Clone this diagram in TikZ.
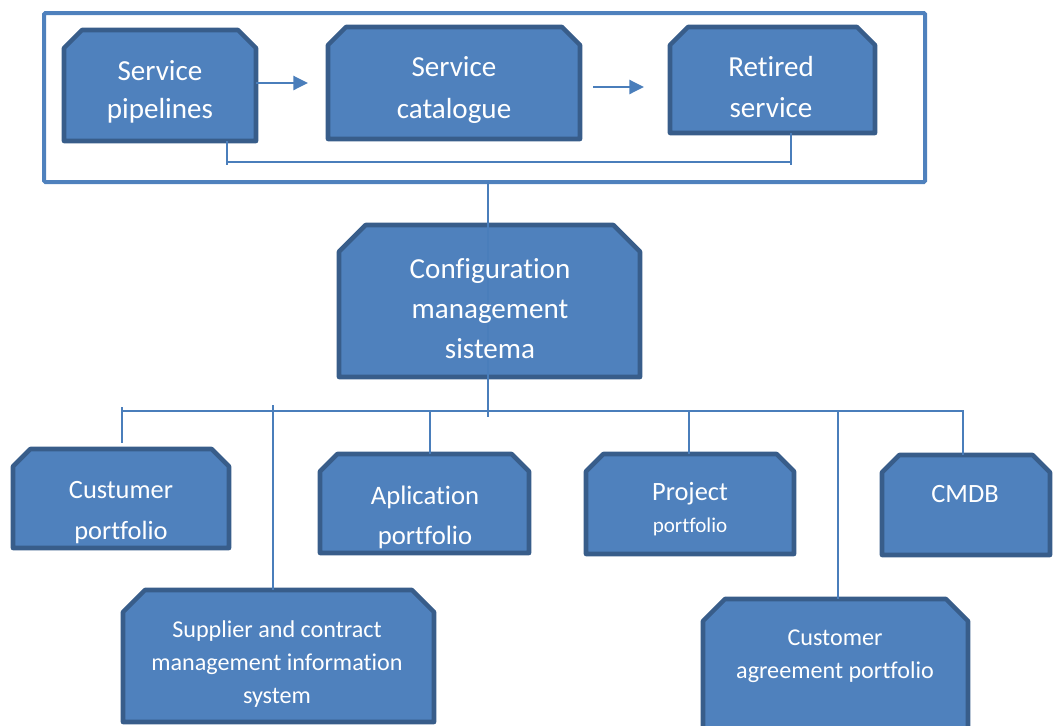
\documentclass[tikz,border=0pt]{standalone}
\usepackage{fontspec}
\setmainfont{Carlito}[Ligatures={NoCommon,NoContextual}]
\usetikzlibrary{arrows.meta,fit}

\definecolor{boxfill}{HTML}{4F81BD}
\definecolor{boxedge}{HTML}{385D8A}
\definecolor{wire}{HTML}{4A7EBB}

% centred lines whose base anchor is the first line's baseline
\newcommand\stacklines[1]{\begin{tabular}[t]{@{}c@{}}#1\end{tabular}}

% block with the two upper corners cut off: #1 node name, #2 cut size
\newcommand\chamferbox[2]{%
  \path[blockshape]
    ([yshift=-#2]#1.north west) -- ([xshift=#2]#1.north west)
    -- ([xshift=-#2]#1.north east) -- ([yshift=-#2]#1.north east)
    -- (#1.south east) -- (#1.south west) -- cycle;}

\tikzset{
  area/.style={inner sep=0pt, outer sep=0pt},
  blockshape/.style={fill=boxfill, draw=boxedge, line width=3.4pt, line join=round},
  frameline/.style={draw=boxfill, line width=3pt, rounded corners=1pt},
  wireline/.style={draw=wire, line width=1.2pt},
  arrowline/.style={draw=wire, line width=1.8pt,
    -{Triangle[length=11pt,width=10.5pt]}},
  lbl/.style={anchor=base, text=white, inner sep=0pt},
}

\begin{document}
\begin{tikzpicture}[x=0.75pt, y=-0.75pt]
\useasboundingbox (0,0) rectangle (1053,725);
\clip (0,0) rectangle (1053,725);

% outer frame of the service lifecycle
\node[area, frameline, fit={(44,13) (925,182)}] (frame) {};

% block areas
\node[area, fit={(64,30) (256,141)}]   (sp)   {};
\node[area, fit={(328,27) (580,139)}]  (sc)   {};
\node[area, fit={(670,27) (875,133)}]  (rs)   {};
\node[area, fit={(339,225) (640,377)}] (cms)  {};
\node[area, fit={(13,449) (229,548)}]  (cp)   {};
\node[area, fit={(320,454) (529,553)}] (ap)   {};
\node[area, fit={(586,454) (794,554)}] (pp)   {};
\node[area, fit={(882,455) (1050,555)}] (cmdb) {};
\node[area, fit={(123,590) (434,722)}] (sup)  {};
\node[area, fit={(703,599) (968,745)}] (cap)  {};

\chamferbox{sp}{13.5pt}
\chamferbox{sc}{13.5pt}
\chamferbox{rs}{13.5pt}
\chamferbox{cms}{20pt}
\chamferbox{cp}{13pt}
\chamferbox{ap}{13pt}
\chamferbox{pp}{13pt}
\chamferbox{cmdb}{13pt}
\chamferbox{sup}{16.5pt}
\chamferbox{cap}{16.5pt}

% lifecycle arrows
\draw[arrowline, shorten >=15pt] (sp.east |- sc.west) -- (sc.west);
\draw[arrowline, shorten <=9.75pt, shorten >=19.5pt]
  ([yshift=-3pt]sc.east) -- ([yshift=-3pt]sc.east -| rs.west);

% bracket joining pipelines and retired services
\coordinate (bl) at (227,162);
\coordinate (br) at (791,162);
\draw[wireline] (sp.south -| bl) -- ([yshift=-2.25pt]bl);
\draw[wireline] (bl) -- (br);
\draw[wireline] (rs.south -| br) -- ([yshift=-2.25pt]br);

% trunk from the frame through the CMS down to the bus
\coordinate (hub) at (488,417);
\draw[wireline] (frame.south -| hub) -- (hub);

% distribution bus and drops
\coordinate (busL) at (122,411);
\coordinate (busR) at (964,411);
\coordinate (dS) at (273,411);
\coordinate (dA) at (430,411);
\coordinate (dP) at (689,411);
\coordinate (dC) at (838,411);
\coordinate (dM) at (963,411);
\draw[wireline] (busL) -- (busR);
\draw[wireline] ([yshift=3pt]busL) -- ([yshift=4.5pt]cp.north -| busL);
\draw[wireline] ([yshift=4.5pt]dS) -- (sup.north -| dS);
\draw[wireline] (dA) -- (ap.north -| dA);
\draw[wireline] (dP) -- (pp.north -| dP);
\draw[wireline] (dC) -- (cap.north -| dC);
\draw[wireline] (dM) -- (cmdb.north -| dM);

% labels
\node[lbl, font=\fontsize{21.8}{28.5}\selectfont] (sp-t) at (160,80)
  {\stacklines{Service\\pipelines}};
\node[lbl, font=\fontsize{21.8}{31.5}\selectfont] (sc-t) at (454,76)
  {\stacklines{Service\\catalogue}};
\node[lbl, font=\fontsize{21.8}{30.75}\selectfont] (rs-t) at (771,76)
  {\stacklines{Retired\\service}};
\node[lbl, font=\fontsize{21.8}{30}\selectfont] (cms-t) at (490,278)
  {\stacklines{Configuration\\management\\sistema}};
\node[lbl, font=\fontsize{19.8}{30.75}\selectfont] (cp-t) at (121,498)
  {\stacklines{Custumer\\portfolio}};
\node[lbl, font=\fontsize{20}{30}\selectfont] (ap-t) at (425,504)
  {\stacklines{Aplication\\portfolio}};
\node[lbl, font=\fontsize{19.8}{24}\selectfont] (pp-t) at (690,500)
  {\stacklines{Project\\{\fontsize{15.8}{18}\selectfont portfolio}}};
\node[lbl, font=\fontsize{19.8}{24}\selectfont] (cmdb-t) at (965,502) {CMDB};
\node[lbl, font=\fontsize{18.1}{24.75}\selectfont] (sup-t) at (277,637)
  {\stacklines{Supplier and contract\\management information\\system}};
\node[lbl, font=\fontsize{18.1}{24.75}\selectfont] (cap-t) at (835,645)
  {\stacklines{Customer\\agreement portfolio}};
\end{tikzpicture}
\end{document}
